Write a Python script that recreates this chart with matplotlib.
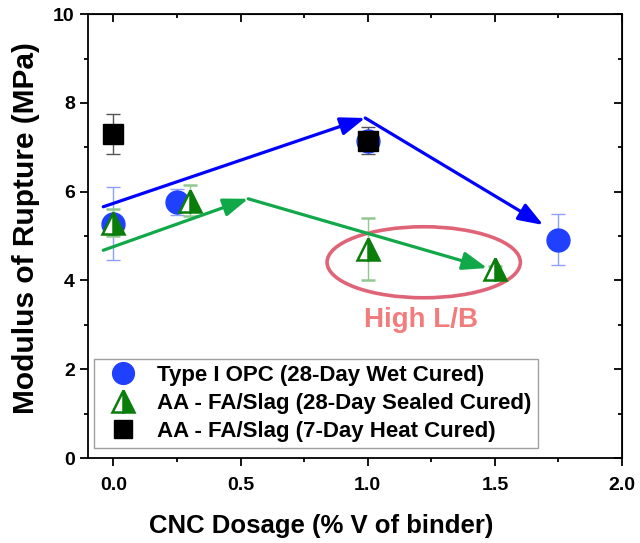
import matplotlib.pyplot as plt
import numpy as np
from matplotlib.patches import Ellipse

plt.rcParams['font.family'] = ['Liberation Sans', 'DejaVu Sans']
plt.rcParams['font.weight'] = 'bold'

# Type I OPC (28-day wet cured)
opc_x = [0.0, 0.25, 1.0, 1.75]
opc_y = [5.28, 5.77, 7.15, 4.92]
opc_err = [0.82, 0.3, 0.15, 0.58]

# AA - FA/Slag (28-day sealed cured)
aa28_x = [0.0, 0.3, 1.0, 1.5]
aa28_y = [5.3, 5.8, 4.7, 4.25]
aa28_err = [0.3, 0.35, 0.7, 0.08]

# AA - FA/Slag (7-day heat cured)
aa7_x = [0.0, 1.0]
aa7_y = [7.3, 7.15]
aa7_err = [0.45, 0.3]

# trend arrows
blue_pts = [(-0.04, 5.66), (0.99, 7.66), (1.69, 5.25)]
green_pts = [(-0.04, 4.68), (0.53, 5.84), (1.47, 4.28)]

fig = plt.figure(figsize=(6.4, 5.43), dpi=100)
ax = fig.add_axes([0.1375, 0.1565, 0.8345, 0.8175])

ax.errorbar(opc_x, opc_y, yerr=opc_err, fmt='o', color='#2040ff', ms=16.5,
            ecolor='#8ea0ff', elinewidth=1, capsize=5, capthick=1,
            label='Type I OPC (28-Day Wet Cured)', zorder=3)
ax.errorbar(aa28_x, aa28_y, yerr=aa28_err, fmt='^', color='#0a7d0a', ms=16,
            mec='#0a7d0a', mew=1.8, fillstyle='right', markerfacecoloralt='white',
            ecolor='#90c890', elinewidth=1, capsize=5, capthick=1,
            label='AA - FA/Slag (28-Day Sealed Cured)', zorder=4)
ax.errorbar(aa7_x, aa7_y, yerr=aa7_err, fmt='s', color='black', ms=14,
            ecolor='#555555', elinewidth=1, capsize=5, capthick=1,
            label='AA - FA/Slag (7-Day Heat Cured)', zorder=3)

for pts, col in [(blue_pts, '#0000ff'), (green_pts, '#10a848')]:
    for a, b in zip(pts[:-1], pts[1:]):
        ax.annotate('', xy=b, xytext=a,
                    arrowprops=dict(arrowstyle='-|>,head_length=1.5,head_width=0.55',
                                    color=col, lw=2.3, shrinkA=0, shrinkB=0),
                    zorder=5)

ax.add_patch(Ellipse((1.22, 4.41), 0.76, 1.6, fill=False,
                     edgecolor='#e06478', lw=2.6, zorder=2))
ax.text(1.21, 3.1, 'High L/B', color='#f27c7c', fontsize=20,
        fontweight='bold', ha='center', va='center')

ax.set_xlim(-0.1, 2.0)
ax.set_ylim(0, 10)
ax.set_xticks([0.0, 0.5, 1.0, 1.5, 2.0])
ax.set_xticks([0.25, 0.75, 1.25, 1.75], minor=True)
ax.set_yticks([0, 2, 4, 6, 8, 10])
ax.set_yticks([1, 3, 5, 7, 9], minor=True)
ax.set_xticklabels(['0.0', '0.5', '1.0', '1.5', '2.0'])
ax.tick_params(which='both', labelsize=14, width=1.3)
ax.tick_params(which='major', length=6)
ax.tick_params(which='minor', length=3)
ax.tick_params(axis='x', pad=8)
for s in ax.spines.values():
    s.set_linewidth(1.3)

# inward ticks on top and right
sec_x = ax.secondary_xaxis('top')
sec_x.set_xticks([0.0, 0.5, 1.0, 1.5, 2.0])
sec_x.set_xticks([0.25, 0.75, 1.25, 1.75], minor=True)
sec_x.tick_params(which='both', direction='in', labeltop=False, width=1.3)
sec_x.tick_params(which='major', length=6)
sec_x.tick_params(which='minor', length=3)
sec_y = ax.secondary_yaxis('right')
sec_y.set_yticks([0, 2, 4, 6, 8, 10])
sec_y.set_yticks([1, 3, 5, 7, 9], minor=True)
sec_y.tick_params(which='both', direction='in', labelright=False, width=1.3)
sec_y.tick_params(which='major', length=6)
sec_y.tick_params(which='minor', length=3)

ax.set_xlabel('CNC Dosage (% V of binder)', fontsize=18.5, fontweight='bold')
ax.set_ylabel('Modulus of Rupture (MPa)', fontsize=21.5, fontweight='bold')
ax.xaxis.set_label_coords(0.436, -0.125)
ax.yaxis.set_label_coords(-0.09, 0.518)

h, l = ax.get_legend_handles_labels()
h = [x[0] for x in h]
leg = ax.legend(h, l, loc='lower left', bbox_to_anchor=(0.012, 0.022), fontsize=16,
                frameon=True, fancybox=False, edgecolor='#888888', markerscale=0.95,
                handletextpad=0.5, borderpad=0.3, labelspacing=0.3, handlelength=2.0,
                borderaxespad=0)
leg.get_frame().set_linewidth(1)

fig.savefig('out.png', dpi=100)
